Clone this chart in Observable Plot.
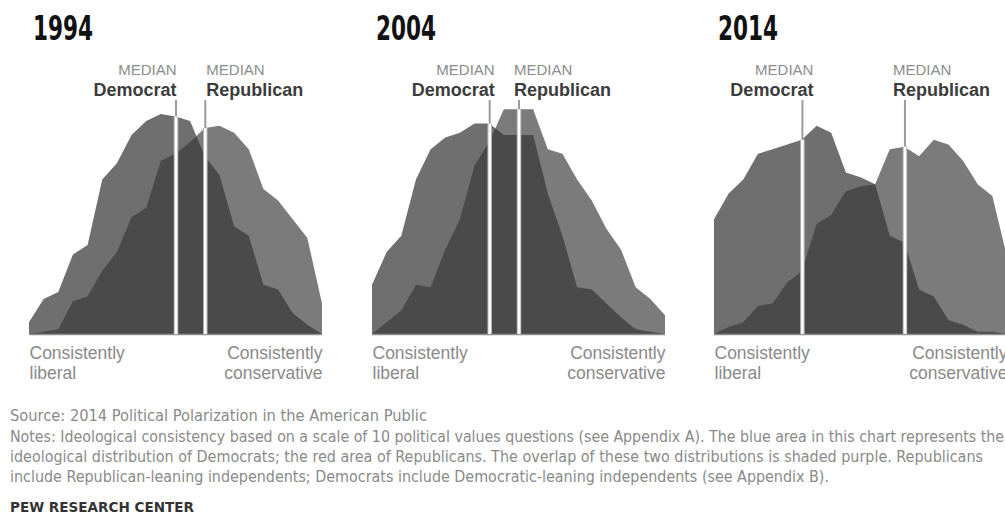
<!DOCTYPE html>
<html>
<head>
<meta charset="utf-8">
<script src="https://cdn.jsdelivr.net/npm/d3@7"></script>
<script src="https://cdn.jsdelivr.net/npm/@observablehq/plot@0.6"></script>
<style>
  html, body { margin: 0; padding: 0; background: #fff; overflow: hidden; width: 1005px; height: 515px; }
  #root { position: relative; width: 1005px; height: 515px; overflow: hidden; background: #fff; }
  .panel { position: absolute; top: 0; width: 343px; height: 390px; }
  .title { position: absolute; left: 33px; top: 11px; font-family: "Liberation Sans Narrow", "DejaVu Sans Condensed", "Roboto Condensed", sans-serif; font-weight: bold; font-size: 34px; line-height: 34px; color: #111; white-space: nowrap; transform-origin: 0 0; }
  .chart { position: absolute; left: 0; top: 50px; }
  .foot { position: absolute; left: 10px; font-family: "Liberation Sans Narrow", "DejaVu Sans Condensed", sans-serif; font-size: 15px; line-height: 20px; color: #8a8a8a; white-space: nowrap; transform-origin: 0 0; }
  .pew { color: #333; font-weight: bold; font-size: 14.5px; }
</style>
</head>
<body>
<div id="root"></div>
<script>
// ---------- data ----------
const years = ["1994", "2004", "2014"];
// ideological consistency scale points (-10 consistently liberal ... +10 consistently conservative)
const scalePoints = [-10, -9, -8, -7, -6, -5, -4, -3, -2, -1, 0, 1, 2, 3, 4, 5, 6, 7, 8, 9, 10];

const dem1994 = [0.5, 1.5, 1.8, 3.4, 3.8, 6.6, 7.3, 8.5, 9.1, 9.4, 9.3, 9.1, 7.6, 6.8, 4.6, 4.2, 2.1, 1.9, 0.9, 0.4, 0.0];
const rep1994 = [0.0, 0.1, 0.2, 1.4, 1.6, 2.7, 3.5, 5.0, 5.4, 7.4, 7.7, 8.2, 8.8, 8.9, 8.6, 7.9, 6.2, 5.7, 4.9, 4.1, 1.3];
const dem2004 = [2.1, 3.5, 4.2, 6.6, 7.9, 8.4, 8.6, 9.0, 9.0, 8.5, 8.5, 8.5, 6.0, 4.2, 2.0, 1.9, 1.3, 0.7, 0.2, 0.1, 0.0];
const rep2004 = [0.0, 0.5, 1.0, 2.1, 2.0, 3.6, 4.9, 7.2, 8.2, 9.6, 9.6, 9.6, 7.9, 7.7, 6.6, 5.7, 4.5, 3.6, 2.0, 1.5, 0.8];
const dem2014 = [4.9, 6.0, 6.6, 7.7, 7.9, 8.1, 8.3, 8.9, 8.6, 6.9, 6.7, 6.4, 4.2, 3.9, 1.9, 1.6, 0.6, 0.4, 0.1, 0.1, 0.0];
const rep2014 = [0.0, 0.3, 0.5, 1.2, 1.3, 2.2, 2.7, 4.7, 5.1, 6.1, 6.3, 6.4, 7.9, 8.0, 7.6, 8.3, 8.1, 7.4, 6.4, 5.9, 3.3];

const demMedian = [0, -2, -4];
const repMedian = [2, 0, 3];

const medianWord = "MEDIAN";
const partyNames = ["Democrat", "Republican"];
const leftEnd = ["Consistently", "liberal"];
const rightEnd = ["Consistently", "conservative"];

const sourceText = "Source: 2014 Political Polarization in the American Public";
const notesLines = [
  "Notes: Ideological consistency based on a scale of 10 political values questions (see Appendix A). The blue area in this chart represents the",
  "ideological distribution of Democrats; the red area of Republicans. The overlap of these two distributions is shaded purple. Republicans",
  "include Republican-leaning independents; Democrats include Democratic-leaning independents (see Appendix B)."
];
const credit = "PEW RESEARCH CENTER";

const demSeries = [dem1994, dem2004, dem2014];
const repSeries = [rep1994, rep2004, rep2014];

// ---------- layout / style ----------
const panelLeft = [0, 343, 685];
const demLabelShift = [0.5, 5, 11];
const repLabelShift = [1, -5, -12];
const titleWidth = 60;
const footLayout = [
  {cls: "foot", top: 405.8, width: 417},
  {cls: "foot", top: 426.5, width: 994},
  {cls: "foot", top: 446.5, width: 973},
  {cls: "foot", top: 466.8, width: 819},
  {cls: "foot pew", top: 496.7, width: 184}
];

const root = document.getElementById("root");

function fitWidth(el, target) {
  const w = el.getBoundingClientRect().width;
  if (w > 0) el.style.transform = `scaleX(${target / w})`;
}

years.forEach((year, k) => {
  const panel = document.createElement("div");
  panel.className = "panel";
  panel.style.left = panelLeft[k] + "px";
  root.appendChild(panel);

  const title = document.createElement("div");
  title.className = "title";
  title.textContent = year;
  panel.appendChild(title);
  fitWidth(title, titleWidth);

  const rows = scalePoints.map((x, i) => ({x, dem: demSeries[k][i], rep: repSeries[k][i]}));
  const topAt = m => { const r = rows.find(d => d.x === m); return Math.max(r.dem, r.rep); };
  const meds = [
    {x: demMedian[k], top: topAt(demMedian[k])},
    {x: repMedian[k], top: topAt(repMedian[k])}
  ];

  const labelFont = {fontSize: 15, fill: "#8c8c8c"};
  const partyFont = {fontSize: 18, fontWeight: "bold", fill: "#3c3c3c"};
  const endFont = {fontSize: 17.5, fill: "#8a8a8a"};

  const chart = Plot.plot({
    width: 343,
    height: 335,
    marginLeft: 29,
    marginRight: 21,
    marginTop: 50,
    marginBottom: 51,
    x: {domain: [-10, 10], axis: null},
    y: {domain: [0, 10], axis: null},
    style: {fontFamily: "'Liberation Sans', Arial, sans-serif", background: "transparent", overflow: "visible"},
    marks: [
      Plot.areaY(rows, {x: "x", y: "dem", fill: "#6f6f6f"}),
      Plot.areaY(rows, {x: "x", y: "rep", fill: "#383838", fillOpacity: 0.664}),
      Plot.ruleY([0], {stroke: "#8e8e8e", strokeWidth: 1.5}),
      Plot.ruleX(meds, {x: "x", stroke: "#9a9a9a", strokeWidth: 2}),
      Plot.ruleX(meds, {x: "x", y1: 0, y2: "top", stroke: "#b8b8b8", strokeWidth: 4.5}),
      Plot.ruleX(meds, {x: "x", y1: 0, y2: "top", stroke: "#ffffff", strokeWidth: 2.5}),
      // median labels
      Plot.text([meds[0]], {x: "x", text: () => medianWord, frameAnchor: "top", lineAnchor: "bottom", textAnchor: "end", dx: demLabelShift[k], dy: -26, ...labelFont}),
      Plot.text([meds[0]], {x: "x", text: () => partyNames[0], frameAnchor: "top", lineAnchor: "bottom", textAnchor: "end", dx: demLabelShift[k], dy: -5, ...partyFont}),
      Plot.text([meds[1]], {x: "x", text: () => medianWord, frameAnchor: "top", lineAnchor: "bottom", textAnchor: "start", dx: repLabelShift[k], dy: -26, ...labelFont}),
      Plot.text([meds[1]], {x: "x", text: () => partyNames[1], frameAnchor: "top", lineAnchor: "bottom", textAnchor: "start", dx: repLabelShift[k], dy: -5, ...partyFont}),
      // scale end labels
      Plot.text([leftEnd[0]], {x: scalePoints[0], text: d => d, frameAnchor: "bottom", lineAnchor: "bottom", textAnchor: "start", dy: 24, ...endFont}),
      Plot.text([leftEnd[1]], {x: scalePoints[0], text: d => d, frameAnchor: "bottom", lineAnchor: "bottom", textAnchor: "start", dy: 44, ...endFont}),
      Plot.text([rightEnd[0]], {x: scalePoints[scalePoints.length - 1], text: d => d, frameAnchor: "bottom", lineAnchor: "bottom", textAnchor: "end", dy: 24, ...endFont}),
      Plot.text([rightEnd[1]], {x: scalePoints[scalePoints.length - 1], text: d => d, frameAnchor: "bottom", lineAnchor: "bottom", textAnchor: "end", dy: 44, ...endFont})
    ]
  });
  chart.classList.add("chart");
  chart.style.position = "absolute";
  chart.style.left = "0px";
  chart.style.top = "50px";
  chart.style.maxWidth = "none";
  panel.appendChild(chart);
});

const footTexts = [sourceText, ...notesLines, credit];
footTexts.forEach((t, i) => {
  const d = document.createElement("div");
  d.className = footLayout[i].cls;
  d.style.top = footLayout[i].top + "px";
  d.textContent = t;
  root.appendChild(d);
  fitWidth(d, footLayout[i].width);
});
</script>
</body>
</html>
